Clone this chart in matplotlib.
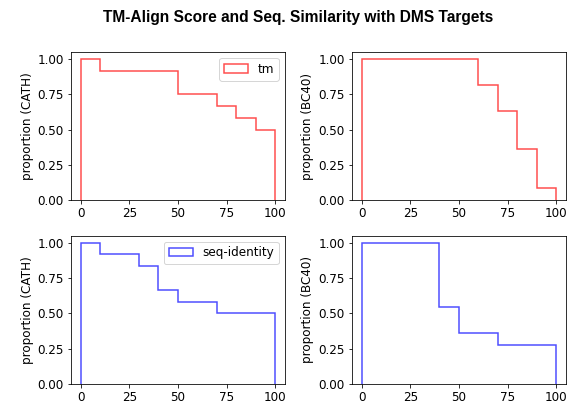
import numpy as np
import matplotlib
matplotlib.use("Agg")
import matplotlib.pyplot as plt

plt.rcParams["font.size"] = 12

# bin edges (score / identity, %)
edges = [0, 10, 20, 30, 40, 50, 60, 70, 80, 90, 100]

# proportion of targets at or above each bin
tm_cath = [1.0, 0.917, 0.917, 0.917, 0.917, 0.75, 0.75, 0.667, 0.583, 0.5]
tm_bc40 = [1.0, 1.0, 1.0, 1.0, 1.0, 1.0, 0.818, 0.636, 0.364, 0.091]
seq_cath = [1.0, 0.917, 0.917, 0.833, 0.667, 0.583, 0.583, 0.5, 0.5, 0.5]
seq_bc40 = [1.0, 1.0, 1.0, 1.0, 0.545, 0.364, 0.364, 0.273, 0.273, 0.273]

fig, axes = plt.subplots(2, 2, figsize=(567 / 72, 406 / 72), dpi=72)
fig.subplots_adjust(left=0.125, right=0.998, top=0.872, bottom=0.054,
                    wspace=0.313, hspace=0.236)

centers = edges[:-1]
panels = [
    (axes[0, 0], tm_cath, "red", "tm", "proportion (CATH)", True),
    (axes[0, 1], tm_bc40, "red", "tm", "proportion (BC40)", False),
    (axes[1, 0], seq_cath, "blue", "seq-identity", "proportion (CATH)", True),
    (axes[1, 1], seq_bc40, "blue", "seq-identity", "proportion (BC40)", False),
]
for ax, vals, col, lab, ylab, show_leg in panels:
    ax.hist(centers, bins=edges, weights=vals, histtype="step",
            color=col, alpha=0.7, linewidth=1.5, label=lab)
    ax.set_ylabel(ylab)
    ax.set_yticks([0, 0.25, 0.5, 0.75, 1.0])
    ax.set_xticks([0, 25, 50, 75, 100])
    if show_leg:
        ax.legend(loc="upper right")

fig.suptitle("TM-Align Score and Seq. Similarity with DMS Targets",
             fontsize=15.5, fontweight="bold", family="Liberation Sans",
             x=0.525, y=0.975)

fig.savefig("out.png", dpi=72)
